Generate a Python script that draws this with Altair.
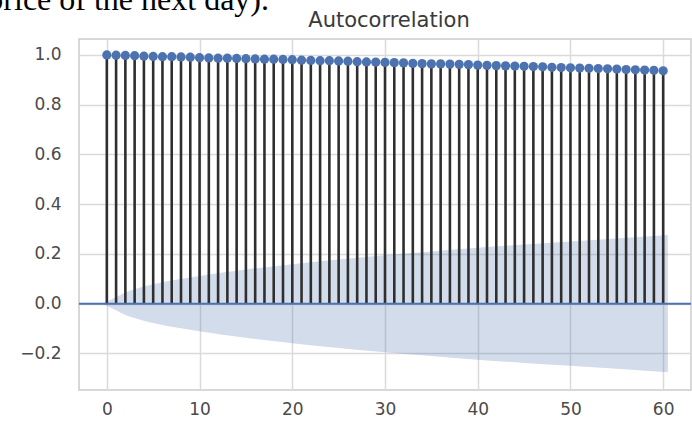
import altair as alt
import pandas as pd

# Autocorrelation at lags 0..60
lags = list(range(61))
acf_values = [
    1.000, 0.999, 0.998, 0.997, 0.995, 0.994, 0.993, 0.993, 0.992, 0.991,
    0.989, 0.988, 0.987, 0.987, 0.986, 0.985, 0.984, 0.983, 0.983, 0.982,
    0.981, 0.979, 0.978, 0.977, 0.977, 0.976, 0.975, 0.973, 0.972, 0.971,
    0.970, 0.969, 0.968, 0.966, 0.965, 0.964, 0.964, 0.963, 0.962, 0.961,
    0.959, 0.958, 0.957, 0.956, 0.955, 0.954, 0.953, 0.952, 0.950, 0.949,
    0.948, 0.947, 0.946, 0.945, 0.944, 0.943, 0.941, 0.940, 0.939, 0.938,
    0.936,
]

# 95% confidence band around zero
band_lags = [-0.5, 1, 2, 3, 4, 5, 6, 7, 8, 10, 12.5, 15, 20, 25, 30, 35, 40,
             45, 50, 55, 60.5]
band_upper = [0.0, 0.026, 0.045, 0.058, 0.069, 0.078, 0.086, 0.093, 0.099,
              0.111, 0.125, 0.137, 0.159, 0.178, 0.195, 0.210, 0.225, 0.238,
              0.250, 0.262, 0.276]
band_lower = [0.0, -0.026, -0.045, -0.058, -0.069, -0.078, -0.086, -0.093, -0.099,
              -0.111, -0.125, -0.137, -0.159, -0.178, -0.195, -0.210, -0.225, -0.238,
              -0.250, -0.262, -0.276]

x_ticks = [0, 10, 20, 30, 40, 50, 60]
y_ticks = [-0.2, 0.0, 0.2, 0.4, 0.6, 0.8, 1.0]

acf_df = pd.DataFrame({"lag": lags, "acf": acf_values, "base": [0.0] * len(lags)})
band_df = pd.DataFrame({"lag": band_lags, "upper": band_upper, "lower": band_lower})
one_row = pd.DataFrame({"k": [0]})

BLUE = "#4c72b0"
FONT = "DejaVu Sans"

x_scale = alt.Scale(domain=[-3, 63], nice=False, zero=False)
y_scale = alt.Scale(domain=[-0.347, 1.064], nice=False, zero=False)

x_axis = alt.Axis(values=x_ticks, title=None, grid=True, domain=False, ticks=False,
                  labelPadding=11, labelFontSize=17, labelColor="#4a4a4a",
                  labelFont=FONT, gridColor="#dadada", gridWidth=1.5)
y_axis = alt.Axis(values=y_ticks, title=None, grid=True, domain=False, ticks=False,
                  format=".1f", labelExpr="replace(datum.label, '-', '\u2212')",
                  labelPadding=18, labelFontSize=17, labelColor="#4a4a4a",
                  labelFont=FONT, gridColor="#dadada", gridWidth=1.5)

band = alt.Chart(band_df).mark_area(color=BLUE, opacity=0.25,
                                    interpolate="monotone").encode(
    x=alt.X("lag:Q", scale=x_scale, axis=x_axis),
    y=alt.Y("upper:Q", scale=y_scale, axis=y_axis),
    y2="lower:Q",
)

stems = alt.Chart(acf_df).mark_rule(color="#2f2f2f", strokeWidth=2.6).encode(
    x=alt.X("lag:Q", scale=x_scale),
    y=alt.Y("base:Q", scale=y_scale),
    y2="acf:Q",
)

zero_line = alt.Chart(one_row).mark_rule(color=BLUE, strokeWidth=2).encode(
    y=alt.datum(0, scale=y_scale),
)

points = alt.Chart(acf_df).mark_circle(color=BLUE, size=85, opacity=1).encode(
    x=alt.X("lag:Q", scale=x_scale),
    y=alt.Y("acf:Q", scale=y_scale),
)

title_text = alt.Chart(one_row).mark_text(
    text="Autocorrelation", font=FONT, fontSize=21, color="#3a3a3a",
    align="center", baseline="alphabetic",
).encode(x=alt.value(310), y=alt.value(-12))

caption_text = alt.Chart(one_row).mark_text(
    text="price of the next day).", font="Liberation Serif", fontSize=32,
    color="#000000", align="right", baseline="alphabetic",
).encode(x=alt.value(190), y=alt.value(-29))

chart = alt.layer(band, stems, zero_line, points, title_text, caption_text).properties(
    width=612,
    height=351,
    autosize=alt.AutoSizeParams(type="none"),
    padding={"left": 79, "top": 39, "right": 1, "bottom": 31},
    background="white",
).configure_view(stroke="#cccccc", strokeWidth=1.5)

chart.save("out.html", embed_options={"renderer": "svg", "actions": False})
